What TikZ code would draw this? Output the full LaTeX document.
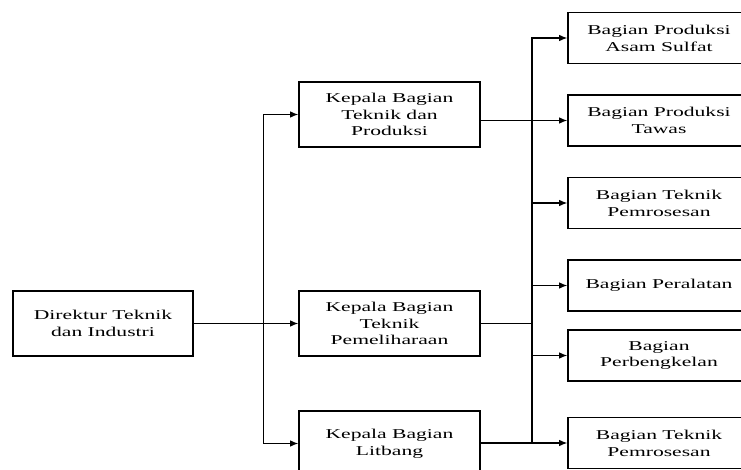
\documentclass[tikz,border=0pt]{standalone}
\usepackage{fontspec}
\setmainfont{Liberation Serif}[FakeStretch=1.6]
\usetikzlibrary{positioning, arrows.meta}

\begin{document}
\begin{tikzpicture}[x=1pt, y=-1pt, font=\fontsize{13.5}{16.8}\selectfont,
  >={Latex[length=8pt,width=6.5pt]}, line width=1.1pt,
  kb/.style={draw, line width=1.6pt, minimum width=181pt, minimum height=65pt,
             inner sep=2pt, align=center},
  bg/.style={kb, minimum width=182pt, minimum height=51pt}]
  \useasboundingbox (0,0) rectangle (741,470);
  \clip (0,0) rectangle (741,470);
  % kepala bagian
  \node[kb, minimum width=180pt] (dir) at (103,323.5) {Direktur Teknik\\ dan Industri};
  \node[kb] (k1) at (389.5,114.5) {Kepala Bagian\\ Teknik dan\\ Produksi};
  \node[kb] (k2) at (389.5,323.5) {Kepala Bagian\\ Teknik\\ Pemeliharaan};
  \node[kb] (k3) at (389.5,443.5) {Kepala Bagian\\ Litbang};
  % bagian
  \node[bg] (b1) at (659,38) {Bagian Produksi\\ Asam Sulfat};
  \node[bg] (b2) at (659,120.5) {Bagian Produksi\\ Tawas};
  \node[bg] (b3) at (659,203) {Bagian Teknik\\ Pemrosesan};
  \node[bg] (b4) at (659,285.5) {Bagian Peralatan};
  \node[bg] (b5) at (659,355.5) {Bagian\\ Perbengkelan};
  \node[bg] (b6) at (659,443) {Bagian Teknik\\ Pemrosesan};
  \coordinate (lt) at (263.5,0);
  \coordinate (rt) at (532,0);
  \draw[->] (dir) -- (k2);
  \draw[<->] (k1.west) -- (lt |- k1) -- (lt |- k3) -- (k3.west);
  \draw[<-] (b1.west) -- (rt |- b1) -- (rt |- b6);
  \foreach \b in {b3, b4, b5}
     \draw[->] (rt |- \b) -- (\b.west);
  \draw[->] (k1.east |- b2) -- (b2.west);
  \draw (k2.east) -- (rt |- k2);
  \draw[->] (k3.east |- b6) -- (b6.west);
\end{tikzpicture}
\end{document}
